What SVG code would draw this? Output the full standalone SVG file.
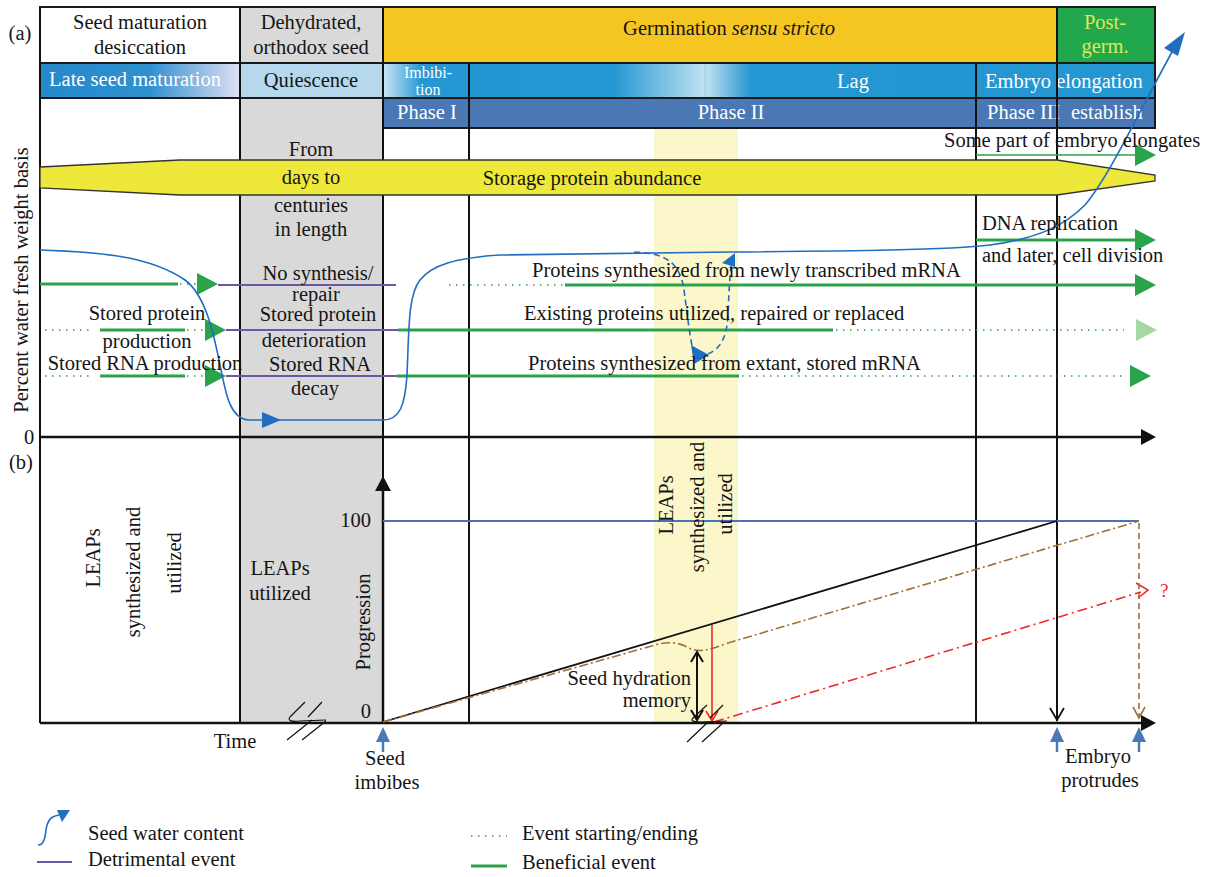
<svg xmlns="http://www.w3.org/2000/svg" width="1213" height="877" viewBox="0 0 1213 877">
<defs>
<style>
text{font-family:"Liberation Serif","Times New Roman",serif;font-size:20.5px;fill:#151515}
.c{text-anchor:middle}
.e{text-anchor:end}
.w{fill:#ffffff}
.fr{stroke:#1a1a1a;stroke-width:2}
.vl{stroke:#111;stroke-width:2;fill:none}
.gl{stroke:#2BA34A;stroke-width:3;fill:none}
.gd{stroke:#2BA34A;stroke-width:1.6;stroke-dasharray:1.5 5.5;fill:none}
.pl{stroke:#6B56A8;stroke-width:2.2;fill:none}
.bc{stroke:#1F6EBF;stroke-width:1.6;fill:none}
.bd{stroke:#1F6EBF;stroke-width:1.6;fill:none;stroke-dasharray:6 4}
.ga{fill:#2BA34A}
.bt{fill:#1F6EBF}
.ua{fill:#4A7AB5}
.us{stroke:#4A7AB5;stroke-width:2.5}
</style>
<linearGradient id="gLate" gradientUnits="userSpaceOnUse" x1="40" y1="0" x2="240" y2="0">
<stop offset="0" stop-color="#2589CB"/><stop offset="0.55" stop-color="#3090CF"/><stop offset="1" stop-color="#E0E0F3"/>
</linearGradient>
<linearGradient id="gImb" gradientUnits="userSpaceOnUse" x1="383" y1="0" x2="469" y2="0">
<stop offset="0" stop-color="#CBE7F5"/><stop offset="0.45" stop-color="#2597D3"/><stop offset="1" stop-color="#2597D3"/>
</linearGradient>
<linearGradient id="gLag" gradientUnits="userSpaceOnUse" x1="469" y1="0" x2="976" y2="0">
<stop offset="0" stop-color="#2396D2"/><stop offset="0.284" stop-color="#2597D2"/><stop offset="0.463" stop-color="#BEE1F1"/><stop offset="0.466" stop-color="#9FD1EC"/><stop offset="0.469" stop-color="#BEE1F1"/><stop offset="0.555" stop-color="#2597D2"/><stop offset="1" stop-color="#2396D2"/>
</linearGradient>
<path id="gh" d="M0,-11 L21,0 L0,11Z"/>
</defs>

<rect x="0" y="0" width="1213" height="877" fill="#ffffff"/>
<rect id="leaps-band" x="654" y="128" width="84" height="595" fill="#FBF7CB"/>
<rect id="grey-column" x="240" y="98" width="143" height="625" fill="#D9D9D9"/>

<g id="hdr-seed-maturation">
<rect x="40" y="7" width="200" height="56" fill="#ffffff" class="fr"/>
<text x="140" y="29" class="c">Seed maturation</text>
<text x="140" y="54" class="c">desiccation</text>
</g>
<g id="hdr-dehydrated">
<rect x="240" y="7" width="143" height="56" fill="#D9D9D9" class="fr"/>
<text x="311" y="29" class="c">Dehydrated,</text>
<text x="311" y="54" class="c">orthodox seed</text>
</g>
<g id="hdr-germination">
<rect x="383" y="7" width="674" height="56" fill="#F5C522" class="fr"/>
<text x="729" y="35" class="c">Germination <tspan font-style="italic">sensu stricto</tspan></text>
</g>
<g id="hdr-postgerm">
<rect x="1057" y="7" width="98" height="56" fill="#22A84C" class="fr"/>
<text x="1105" y="29" class="c" style="fill:#E4E55C">Post-</text>
<text x="1105" y="53" class="c" style="fill:#E4E55C">germ.</text>
</g>
<g id="row-late">
<rect x="40" y="63" width="200" height="35" fill="url(#gLate)" class="fr"/>
<text x="135" y="86" class="c w">Late seed maturation</text>
</g>
<g id="row-quiescence">
<rect x="240" y="63" width="143" height="35" fill="#B5D8EC" class="fr"/>
<text x="311" y="87" class="c">Quiescence</text>
</g>
<g id="row-imbibition">
<rect x="383" y="63" width="86" height="35" fill="url(#gImb)" class="fr"/>
<text x="428" y="78" class="c w" style="font-size:16px">Imbibi-</text>
<text x="428" y="95" class="c w" style="font-size:16px">tion</text>
</g>
<g id="row-lag">
<rect x="469" y="63" width="507" height="35" fill="url(#gLag)" class="fr"/>
<text x="853" y="88" class="c w">Lag</text>
</g>
<g id="row-elongation">
<rect x="976" y="63" width="179" height="35" fill="#2496D2" class="fr"/>
<text x="985" y="88" class="w">Embryo elongation</text>
</g>
<g id="phase-1">
<rect x="383" y="98" width="86" height="30" fill="#4A78B4" class="fr"/>
<text x="427" y="119" class="c w">Phase I</text>
</g>
<g id="phase-2">
<rect x="469" y="98" width="507" height="30" fill="#4A78B4" class="fr"/>
<text x="731" y="119" class="c w">Phase II</text>
</g>
<g id="phase-3">
<rect x="976" y="98" width="179" height="30" fill="#4A78B4" class="fr"/>
<text x="987" y="119" class="w">Phase III</text>
<text x="1071" y="119" class="w">establish</text>
</g>

<g id="grid">
<path class="vl" d="M40,7 V723 M240,7 V723 M383,7 V723 M469,63 V723 M976,63 V723 M1057,7 V721"/>
<path d="M40,437 H1142" stroke="#111" stroke-width="2.5"/>
<path d="M1141,429 L1156,437 L1141,445Z" fill="#111"/>
<path d="M40,723 H1142" stroke="#111" stroke-width="2.5"/>
<path d="M1141,715 L1156,723 L1141,731Z" fill="#111"/>
<path d="M383,723 V488" stroke="#111" stroke-width="2.5"/>
<path d="M375,491 L383,476 L391,491Z" fill="#111"/>
</g>

<g id="storage-protein">
<path d="M40,167 L180,160 L1057,160 L1155,175 L1155,181 L1057,195 L180,195 L40,188Z" fill="#EEE83B" stroke="#333" stroke-width="1.3"/>
<text x="592" y="185" class="c">Storage protein abundance</text>
</g>

<g id="connectors">
<path class="gl" d="M40,284 H178"/><path class="gd" d="M180,284 H198"/><use href="#gh" x="197" y="284" class="ga"/><path class="pl" d="M218,285 H396"/>
<path class="gd" d="M45,330 H92"/><path class="gl" d="M100,330 H185"/><path class="gd" d="M187,330 H205"/><use href="#gh" x="205" y="330" class="ga"/><path class="pl" d="M226,330 H398"/>
<path class="gd" d="M45,376 H92"/><path class="gl" d="M100,376 H185"/><path class="gd" d="M187,376 H205"/><use href="#gh" x="205" y="376" class="ga"/><path class="pl" d="M226,376 H397"/>
<path d="M976,155 H1137" stroke="#2BA34A" stroke-width="1.6"/><use href="#gh" x="1135" y="155" class="ga"/>
<path class="gl" d="M976,240 H1137"/><use href="#gh" x="1135" y="240" class="ga"/>
<path class="gd" d="M449,285 H563"/><path class="gl" d="M565,285 H1137"/><use href="#gh" x="1135" y="285" class="ga"/>
<path class="gl" d="M398,330 H833"/><path class="gd" d="M836,330 H1124"/><use href="#gh" x="1136" y="330" fill="#A6D8A2"/>
<path class="gl" d="M397,376 H739"/><path class="gd" d="M742,376 H1122"/><use href="#gh" x="1130" y="376" class="ga"/>
<path class="bc" d="M40,250 C100,252 150,256 185,280 C205,295 213,330 220,365 C226,395 230,418 248,420 L383,420 C400,420 405,405 407,375 C409,330 408,295 420,280 C432,265 455,258 500,255 L732,252 C850,251 950,250 990,245 C1040,238 1065,225 1085,205 C1110,175 1140,110 1172,52"/>
<path class="bt" d="M1185,32 L1178,56 L1164,48Z"/>
<path class="bt" d="M262,412 L281,420 L262,428Z"/>
<path class="bd" d="M634,252 C665,253 680,262 684,290 C688,320 690,338 693,350"/>
<path class="bt" d="M691,345 L694,364 L709,355Z"/>
<path class="bd" d="M708,354 C722,348 727,335 728,315 C729,290 730,275 731,266"/>
<path class="bt" d="M735,253 L722,263 L735,267Z"/>
<path d="M383,521 H1139" stroke="#4A74B0" stroke-width="2"/>
<path d="M383,722 L1057,521" stroke="#111" stroke-width="1.8"/>
<path d="M383,722 L655,645 Q672,640 685,646 Q695,652 705,650 Q715,648 728,643 L1139,521" stroke="#A0703A" stroke-width="1.6" fill="none" stroke-dasharray="9 3 2 3"/>
<path d="M714,722 L1141,592" stroke="#EE2A2A" stroke-width="1.6" fill="none" stroke-dasharray="10 4 2 4"/>
<path d="M1136,583 L1148,590 L1138,598" stroke="#EE2A2A" stroke-width="1.6" fill="none"/>
<path d="M712,625 V720" stroke="#EE2A2A" stroke-width="1.6"/>
<path d="M706,711 L712,721 L718,711" stroke="#EE2A2A" stroke-width="1.6" fill="none"/>
<path d="M697,652 V720" stroke="#111" stroke-width="2"/>
<path d="M691,662 L697,652 L703,662 M691,710 L697,720 L703,710" stroke="#111" stroke-width="2" fill="none"/>
<path d="M1050,708 L1057,720 L1064,708" stroke="#111" stroke-width="1.8" fill="none"/>
<path d="M1139,523 V718" stroke="#A0703A" stroke-width="1.6" stroke-dasharray="6 4"/>
<path d="M1133,707 L1139,718 L1145,707" stroke="#A0703A" stroke-width="1.6" fill="none"/>
<path d="M305,702 L290,717 C287,721 292,722 300,721 L326,720 M322,702 L308,717 M287,740 L312,720 M302,740 L326,721" stroke="#111" stroke-width="1.2" fill="none"/>
<path d="M707,705 L693,718 C690,721 694,722 700,722 L727,721 M723,705 L710,718 M687,742 L707,723 M702,742 L723,723" stroke="#111" stroke-width="1.2" fill="none"/>
<path class="us" d="M383,752 V739 M1057,752 V739 M1139,752 V739"/>
<path class="ua" d="M376,742 L383,727 L390,742Z M1050,742 L1057,727 L1064,742Z M1132,742 L1139,727 L1146,742Z"/>
</g>

<g id="labels-a">
<text x="20" y="40" class="c">(a)</text>
<text x="29" y="444" class="c">0</text>
<text transform="translate(28,280) rotate(-90)" class="c">Percent water fresh weight basis</text>
<text x="311" y="156" class="c">From</text>
<text x="311" y="184" class="c">days to</text>
<text x="311" y="212" class="c">centuries</text>
<text x="311" y="236" class="c">in length</text>
<text x="318" y="280" class="c">No synthesis/</text>
<text x="316" y="301" class="c">repair</text>
<text x="318" y="321" class="c">Stored protein</text>
<text x="314" y="347" class="c">deterioration</text>
<text x="320" y="371" class="c">Stored RNA</text>
<text x="315" y="395" class="c">decay</text>
<text x="147" y="320" class="c">Stored protein</text>
<text x="147" y="348" class="c">production</text>
<text x="145" y="370" class="c">Stored RNA production</text>
<text x="944" y="147">Some part of embryo elongates</text>
<text x="982" y="230">DNA replication</text>
<text x="982" y="262">and later, cell division</text>
<text x="532" y="277">Proteins synthesized from newly transcribed mRNA</text>
<text x="524" y="320">Existing proteins utilized, repaired or replaced</text>
<text x="528" y="370">Proteins synthesized from extant, stored mRNA</text>
</g>

<g id="labels-b">
<text x="21" y="469" class="c">(b)</text>
<text transform="translate(100,558) rotate(-90)" class="c">LEAPs</text>
<text transform="translate(140,572) rotate(-90)" class="c">synthesized and</text>
<text transform="translate(181,563) rotate(-90)" class="c">utilized</text>
<text x="280" y="575" class="c">LEAPs</text>
<text x="280" y="600" class="c">utilized</text>
<text transform="translate(673,505) rotate(-90)" class="c">LEAPs</text>
<text transform="translate(704,507) rotate(-90)" class="c">synthesized and</text>
<text transform="translate(732,504) rotate(-90)" class="c">utilized</text>
<text transform="translate(370,622) rotate(-90)" class="c">Progression</text>
<text x="371" y="527" class="e">100</text>
<text x="371" y="718" class="e">0</text>
<text x="691" y="685" class="e">Seed hydration</text>
<text x="691" y="707" class="e">memory</text>
<text x="1160" y="597" style="fill:#EE2A2A;font-size:19px">?</text>
<text x="235" y="748" class="c">Time</text>
<text x="385" y="765" class="c">Seed</text>
<text x="387" y="789" class="c">imbibes</text>
<text x="1098" y="763" class="c">Embryo</text>
<text x="1100" y="787" class="c">protrudes</text>
</g>

<g id="legend">
<path class="bc" d="M38,845 C46,845 45,832 47,825 C49,818 53,816 59,815"/>
<path class="bt" d="M70,810 L57,810 L62,822Z"/>
<text x="88" y="840">Seed water content</text>
<path class="pl" d="M37,862 H72"/>
<text x="88" y="866">Detrimental event</text>
<path class="gd" d="M471,836 H507"/>
<text x="522" y="840">Event starting/ending</text>
<path class="gl" d="M471,866 H507"/>
<text x="522" y="869">Beneficial event</text>
</g>
</svg>
